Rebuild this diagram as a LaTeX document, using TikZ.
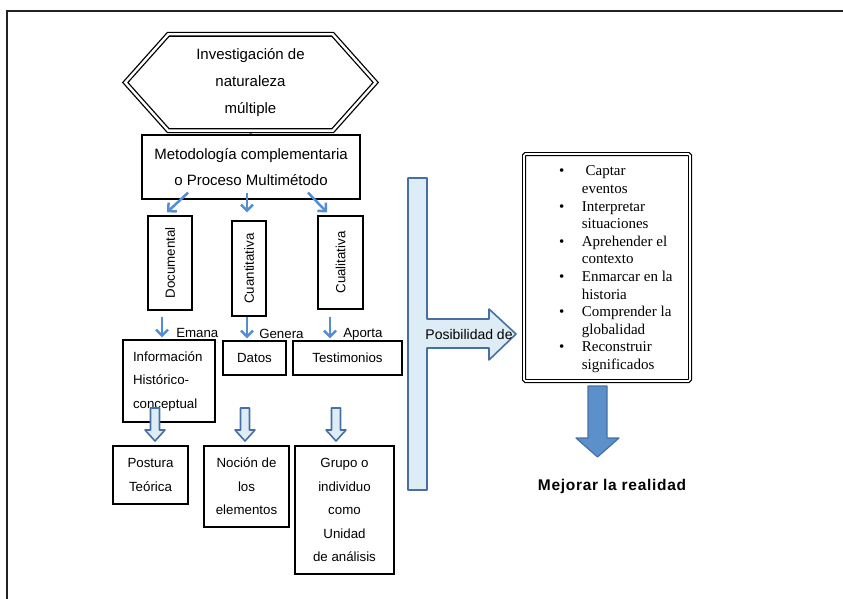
\documentclass[tikz,border=0pt]{standalone}
\usepackage{graphicx}
\usepackage{fontspec}
\setmainfont{Liberation Sans}
\newfontfamily\listfont{Liberation Serif}
\usetikzlibrary{arrows.meta,backgrounds}

\definecolor{linkblue}{RGB}{84,141,212}
\definecolor{edgeblue}{RGB}{70,112,163}
\definecolor{paleblue}{RGB}{222,236,245}
\definecolor{solidblue}{RGB}{92,144,202}
\definecolor{framegray}{RGB}{35,35,35}

\tikzset{
  box/.style={draw, line width=1.3pt, fill=white, align=center,
    font=\fontsize{13.3}{23.5}\selectfont},
  link/.style={draw=linkblue, line width=2.5pt,
    -{Straight Barb[length=6pt,width=12pt]}},
  lbl/.style={font=\fontsize{13.3}{16}\selectfont, inner sep=0pt},
  hollow/.style={draw=edgeblue, fill=paleblue, line width=1.6pt, line join=round},
}

\begin{document}
\begin{tikzpicture}[x=1pt,y=-1pt]
\useasboundingbox (0,0) rectangle (843,599);
\draw[framegray, line width=1.5pt] (7,599) -- (7,11) -- (843,11);

% top of the chart
\node[minimum width=250pt, minimum height=96pt, align=center,
  font=\fontsize{15}{27}\selectfont] (hex) at (250.5,82.5)
  {Investigación de\\naturaleza\\múltiple};
\draw[double, double distance=2.4pt, line width=1.3pt]
  (hex.west) -- ([xshift=43pt]hex.north west) -- ([xshift=-43pt]hex.north east)
  -- (hex.east) -- ([xshift=-43pt]hex.south east) -- ([xshift=43pt]hex.south west) -- cycle;

\node[box, font=\fontsize{15}{26}\selectfont, minimum width=218pt, minimum height=64pt]
  (met) at (251,167) {Metodología complementaria\\o Proceso Multimétodo};
\begin{scope}[on background layer]
\draw[link] (hex.south) -- (met.center);
\end{scope}

\node[box, minimum width=44pt, minimum height=94pt] (doc) at (170,263) {\rotatebox{90}{Documental}};
\node[box, minimum width=34pt, minimum height=95pt] (cuan) at (249,268.5) {\rotatebox{90}{Cuantitativa}};
\node[box, minimum width=45pt, minimum height=93pt] (cual) at (340.5,262.5) {\rotatebox{90}{Cualitativa}};

\draw[link] ([xshift=-63pt,yshift=7pt]met.south) -- ([xshift=-3pt,yshift=3pt]doc.north);
\draw[link] ([xshift=-4pt,yshift=7pt]met.south) -- ([xshift=-2pt,yshift=8pt]cuan.north);
\draw[link] ([xshift=57pt,yshift=7pt]met.south) -- ([xshift=-13.5pt,yshift=3pt]cual.north);

% second row
\node[box, align=left, inner xsep=10pt, text width=72pt, minimum width=92pt, minimum height=82pt]
  (info) at (169,381) {Información\\Histórico-\\conceptual};
\node[box, minimum width=63pt, minimum height=34pt] (datos) at (254.5,358) {Datos};
\node[box, minimum width=109pt, minimum height=34pt] (test) at (347.5,358) {Testimonios};

\draw[link] ([xshift=-8pt,yshift=-6pt]doc.south) -- ([xshift=-7pt,yshift=2pt]info.north)
  node[lbl, pos=0.8, right=13pt] (emana) {Emana};
\draw[link] ([xshift=-2pt]cuan.south) -- ([xshift=-7.5pt,yshift=2pt]datos.north)
  node[lbl, pos=0.8, right=11pt] (genera) {Genera};
\draw[link] ([xshift=-10.5pt,yshift=-7pt]cual.south) -- ([xshift=-17.5pt,yshift=2pt]test.north)
  node[lbl, pos=0.8, right=12pt] (aporta) {Aporta};

% third row
\node[box, minimum width=75pt, minimum height=58pt] (post) at (150.5,475) {Postura\\Teórica};
\node[box, minimum width=85pt, minimum height=81pt] (noc) at (246.5,486.5) {Noción de\\los\\elementos};
\node[box, minimum width=99pt, minimum height=128pt] (grupo) at (344.5,510)
  {Grupo o\\individuo\\como\\Unidad\\de análisis};

\foreach \x in {155,245,336}
{
\draw[hollow] (\x-4.5,408) -- (\x+4.5,408) -- (\x+4.5,430) -- (\x+10,430)
  -- (\x,441) -- (\x-10,430) -- (\x-4.5,430) -- cycle;
}

% big bracket arrow
\draw[hollow] (408,178) -- (427,178) -- (427,319) -- (489,319) -- (489,309) -- (516,334)
  -- (489,360) -- (489,348) -- (427,348) -- (427,490) -- (408,490) -- cycle;
\node[lbl, font=\fontsize{14}{16}\selectfont] (posib) at (469,334) {Posibilidad de};

% right box
\node[draw, double, double distance=1.6pt, line width=1.2pt, rounded corners=1.5pt,
  minimum width=166pt, minimum height=227pt] (fines) at (607,267.5) {};
\node[anchor=base west, inner sep=0pt, font=\listfont\fontsize{15}{17.6}\selectfont]
  (lista) at ([xshift=35.5pt,yshift=-22.5pt]fines.north west)
  {\begin{tabular}[t]{@{}l@{\hspace{17.5pt}}l@{}}
  \textbullet & \ Captar\\
   & eventos\\
  \textbullet & Interpretar\\
   & situaciones\\
  \textbullet & Aprehender el\\
   & contexto\\
  \textbullet & Enmarcar en la\\
   & historia\\
  \textbullet & Comprender la\\
   & globalidad\\
  \textbullet & Reconstruir\\
   & significados
  \end{tabular}};

\draw[draw=edgeblue, fill=solidblue, line width=1.2pt, line join=round]
  (588,386) -- (607,386) -- (607,438) -- (619,438) -- (597.5,457) -- (576,438) -- (588,438) -- cycle;
\node[font=\bfseries\fontsize{15.5}{18}\selectfont\addfontfeature{LetterSpace=4.5}]
  (mejora) at (612,486) {Mejorar la realidad};
\end{tikzpicture}
\end{document}
